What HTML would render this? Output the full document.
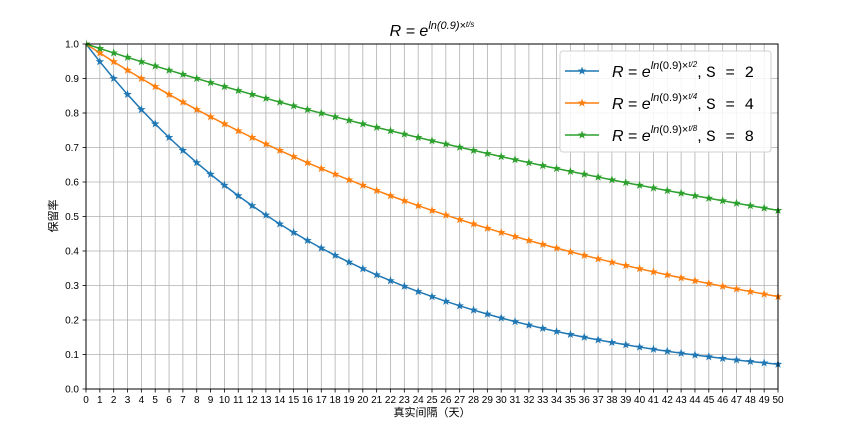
<!DOCTYPE html>
<html><head><meta charset="utf-8"><style>
body{margin:0;background:#fff;}
svg text{font-family:"Liberation Sans","Noto Sans CJK SC",sans-serif;}
</style></head><body>
<svg id="s" width="864" height="432" xmlns="http://www.w3.org/2000/svg"></svg>
<script>
const s=document.getElementById('s');
const L=86,R=778,T=44,B=389;
const X=t=>L+(R-L)*t/50, Y=v=>B-(B-T)*v;
let h='<rect width="864" height="432" fill="#fff"/>';
for(let i=0;i<=50;i++){h+=`<line x1="${X(i)}" y1="${T}" x2="${X(i)}" y2="${B}" stroke="#b0b0b0" stroke-width="0.8"/>`;
h+=`<line x1="${X(i)}" y1="${B}" x2="${X(i)}" y2="${B+3.5}" stroke="#000" stroke-width="0.8"/>`;
h+=`<text x="${X(i)}" y="${B+14}" font-size="10" text-anchor="middle">${i}</text>`;}
for(let i=0;i<=10;i++){const y=Y(i/10);h+=`<line x1="${L}" y1="${y}" x2="${R}" y2="${y}" stroke="#b0b0b0" stroke-width="0.8"/>`;
h+=`<line x1="${L-3.5}" y1="${y}" x2="${L}" y2="${y}" stroke="#000" stroke-width="0.8"/>`;
h+=`<text x="${L-7}" y="${y+3.5}" font-size="10" text-anchor="end">${(i/10).toFixed(1)}</text>`;}
function star(x,y,r,c){let p=[];for(let k=0;k<10;k++){const rr=k%2?r*0.4:r;const a=-Math.PI/2+k*Math.PI/5;p.push((x+rr*Math.cos(a)).toFixed(2)+','+(y+rr*Math.sin(a)).toFixed(2));}return `<polygon points="${p.join(' ')}" fill="${c}"/>`;}
const ser=[[2,'#1f77b4'],[4,'#ff7f0e'],[8,'#2ca02c']];
h+=`<defs><clipPath id="c"><rect x="${L}" y="${T-6}" width="${R-L+6}" height="${B-T+6}"/></clipPath></defs><g clip-path="url(#c)">`;
for(const [S,c] of ser){let pts=[],st='';for(let t=0;t<=50;t++){const v=Math.exp(Math.log(0.9)*t/S);pts.push(X(t).toFixed(2)+','+Y(v).toFixed(2));st+=star(X(t),Y(v),4.5,c);}
h+=`<polyline points="${pts.join(' ')}" fill="none" stroke="${c}" stroke-width="1.5"/>`+st;}
h+='</g>';
h+=`<rect x="${L}" y="${T}" width="${R-L}" height="${B-T}" fill="none" stroke="#000" stroke-width="1"/>`;
h+=`<text x="432" y="36" font-size="16" text-anchor="middle" font-style="italic">R = e<tspan font-size="11" dy="-7">ln(0.9)×</tspan><tspan font-size="8" dy="-2">t/s</tspan></text>`;
h+=`<text x="432" y="416" font-size="11" text-anchor="middle">真实间隔（天）</text>`;
h+=`<text transform="translate(57,216) rotate(-90)" font-size="11" text-anchor="middle">保留率</text>`;
h+=`<rect x="560" y="51" width="211" height="101" rx="3" fill="#fff" fill-opacity="0.85" stroke="#d0d0d0"/>`;
ser.forEach(([S,c],i)=>{const y=71+i*32;h+=`<line x1="565" y1="${y}" x2="599" y2="${y}" stroke="${c}" stroke-width="1.5"/>`+star(582,y,4.5,c);
h+=`<text x="612" y="${y+6}" font-size="16"><tspan font-style="italic">R</tspan> = <tspan font-style="italic">e</tspan><tspan font-size="11" dy="-8" font-style="italic">ln</tspan><tspan font-size="11">(0.9)×</tspan><tspan font-size="8" dy="-2" font-style="italic">t/${S}</tspan><tspan dy="10">, </tspan><tspan font-family="Liberation Mono">S = ${S}</tspan></text>`;});
s.innerHTML=h;
</script>
</body></html>
